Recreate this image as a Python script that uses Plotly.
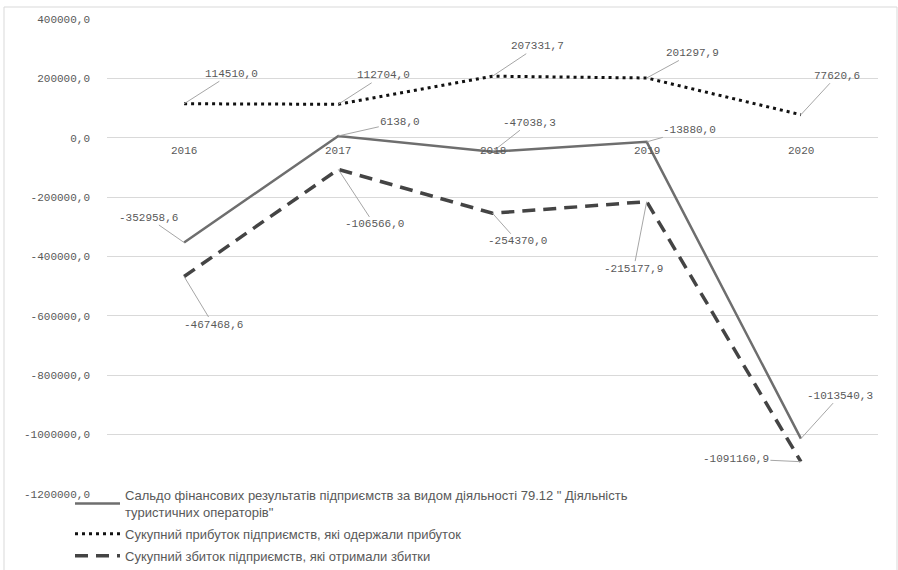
import plotly.graph_objects as go

# Data
years = ["2016", "2017", "2018", "2019", "2020"]
saldo = [-352958.6, 6138.0, -47038.3, -13880.0, -1013540.3]
profit = [114510.0, 112704.0, 207331.7, 201297.9, 77620.6]
loss = [-467468.6, -106566.0, -254370.0, -215177.9, -1091160.9]

series_names = [
    "Сальдо фінансових результатів підприємств за видом діяльності 79.12 \" Діяльність<br>туристичних операторів\"",
    "Сукупний прибуток підприємств, які одержали прибуток",
    "Сукупний збиток підприємств, які отримали збитки",
]

y_tickvals = [400000, 200000, 0, -200000, -400000, -600000, -800000, -1000000, -1200000]
y_ticktext = ["400000,0", "200000,0", "0,0", "-200000,0", "-400000,0",
              "-600000,0", "-800000,0", "-1000000,0", "-1200000,0"]

# Label offsets (pixels) from each point to its data label
label_offsets = {
    0: [(-36, -25), (62, -14), (37, -29), (43, -12), (39, -43)],
    1: [(47, -30), (45, -29), (45, -30), (46, -25), (36, -39)],
    2: [(29, 48), (36, 55), (25, 28), (-13, 67), (-65, -3)],
}

W, H = 898, 570
L, R, T, B = 107, 20, 19, 76
plot_w = W - L - R
plot_h = H - T - B

GREY_TXT = "#595959"
MONO = "Liberation Mono, DejaVu Sans Mono, monospace"


def fmt(v):
    return f"{v:.1f}".replace(".", ",")


fig = go.Figure()

styles = [
    dict(color="#6e6e6e", width=2.5, dash="solid"),
    dict(color="#111111", width=3, dash="3px,4px"),
    dict(color="#444444", width=3.5, dash="13px,8px"),
]
all_series = [saldo, profit, loss]
xs = list(range(len(years)))

for i, (vals, name, st) in enumerate(zip(all_series, series_names, styles)):
    fig.add_trace(go.Scatter(
        x=xs, y=vals, mode="lines", name=name,
        line=st, legendgroup=str(i), showlegend=True,
    ))

annotations = []
for i, vals in enumerate(all_series):
    for j, v in enumerate(vals):
        ax, ay = label_offsets[i][j]
        annotations.append(dict(
            x=xs[j], y=v, xref="x", yref="y", text=fmt(v), showarrow=True,
            ax=ax, ay=ay, arrowhead=0, arrowwidth=1, arrowcolor="#a6a6a6",
            standoff=0,
            font=dict(family=MONO, size=11, color=GREY_TXT),
        ))

# Category labels sitting under the zero line
for j, yr in enumerate(years):
    annotations.append(dict(
        x=xs[j], y=0, xref="x", yref="y", text=yr, showarrow=False, yshift=-13,
        font=dict(family=MONO, size=11, color=GREY_TXT),
    ))

# Outer chart frame
frame = dict(
    type="rect", xref="paper", yref="paper", layer="below",
    x0=(4 - L) / plot_w, x1=(897 - L) / plot_w,
    y0=-(B + 20) / plot_h, y1=(H - B - 7) / plot_h,
    line=dict(color="#d9d9d9", width=1), fillcolor="rgba(0,0,0,0)",
)

fig.update_layout(
    width=W, height=H,
    margin=dict(l=L, r=R, t=T, b=B, autoexpand=False),
    paper_bgcolor="white", plot_bgcolor="white",
    showlegend=True,
    legend=dict(
        x=(70 - L) / plot_w, y=(H - B - 480) / plot_h,
        xanchor="left", yanchor="top",
        bgcolor="rgba(0,0,0,0)",
        font=dict(family="Liberation Sans, Arial, sans-serif", size=13, color=GREY_TXT),
        tracegroupgap=2, itemwidth=45,
    ),
    xaxis=dict(
        range=[-0.5, 4.5],
        showticklabels=False, showgrid=False, zeroline=False, showline=False,
    ),
    yaxis=dict(
        range=[-1200000, 400000],
        tickmode="array", tickvals=y_tickvals, ticktext=y_ticktext,
        showgrid=True, gridcolor="#d9d9d9", gridwidth=1,
        zeroline=False, showline=False, ticks="",
        ticklabelstandoff=16,
        tickfont=dict(family=MONO, size=11, color=GREY_TXT),
    ),
    annotations=annotations,
    shapes=[frame],
)

fig.write_html("out.html")
